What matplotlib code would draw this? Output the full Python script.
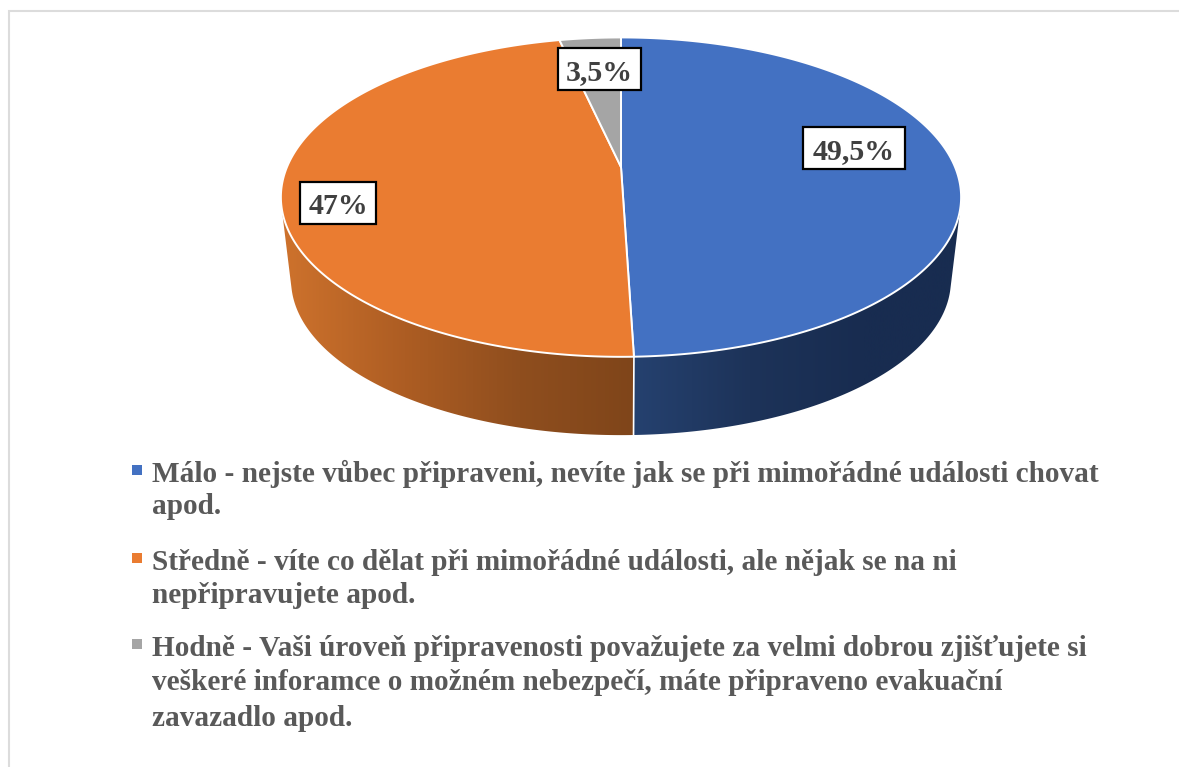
import numpy as np
import matplotlib
matplotlib.use("Agg")
import matplotlib.pyplot as plt
from matplotlib.colors import LinearSegmentedColormap
from matplotlib.patches import Polygon, Rectangle

# data
categories = ["Málo", "Středně", "Hodně"]
shares = [49.5, 47.0, 3.5]
share_labels = ["49,5%", "47%", "3,5%"]
legend_lines = [
    ["Málo - nejste vůbec připraveni, nevíte jak se při mimořádné události chovat", "apod."],
    ["Středně - víte co dělat při mimořádné události, ale nějak se na ni", "nepřipravujete apod."],
    ["Hodně - Vaši úroveň připravenosti považujete za velmi dobrou zjišťujete si",
     "veškeré inforamce o možném nebezpečí, máte připraveno evakuační", "zavazadlo apod."],
]
top_colors = ["#4371c2", "#ea7c31", "#a5a5a5"]
side_colors = [
    ["#25416f", "#1d3359", "#182c50", "#182c50"],
    ["#7f451a", "#8f4e1e", "#ad5d23", "#cc712c"],
    ["#a5a5a5", "#a5a5a5"],
]

plt.rcParams["font.family"] = ["Liberation Serif", "DejaVu Serif"]

fig = plt.figure(figsize=(11.79, 7.67), dpi=100)
ax = fig.add_axes([0, 0, 1, 1])

# chart frame, only left and top are in the crop
ax.plot([9, 9, 1179], [767, 11, 11], color="#dcdcdc", lw=1.5, solid_joinstyle="miter")

# perspective of the pie disc
cx, cy = 621, 167
half_w, half_h = 334, 154
persp = 0.1887
low_cy, low_scale = 251, 0.97


def top_xy(theta):
    w = 1 + persp * np.cos(theta)
    return cx + half_w * np.sin(theta) / w, cy - half_h * np.cos(theta) / w


def low_xy(theta):
    w = 1 + persp * np.cos(theta)
    return cx + low_scale * half_w * np.sin(theta) / w, low_cy - low_scale * half_h * np.cos(theta) / w


def hull(points):
    # monotone chain, gives the outline of the side including the straight silhouette
    pts = sorted(set(map(tuple, points)))

    def half(seq):
        out = []
        for p in seq:
            while len(out) > 1 and ((out[-1][0] - out[-2][0]) * (p[1] - out[-2][1])
                                    - (out[-1][1] - out[-2][1]) * (p[0] - out[-2][0])) <= 0:
                out.pop()
            out.append(p)
        return out[:-1]

    return np.array(half(pts) + half(pts[::-1]))


edges = np.radians(np.concatenate([[0], np.cumsum(shares)]) * 3.6)
seam_x = top_xy(edges[1])[0]

# sides first, the top disc covers whatever is behind it
for i in range(len(shares)):
    th = np.linspace(edges[i], edges[i + 1], 300)
    xt, yt = top_xy(th)
    xl, yl = low_xy(th)
    outline = hull(np.column_stack([np.r_[xt, xl], np.r_[yt, yl]]))
    patch = Polygon(outline, closed=True, facecolor="none", edgecolor="none", transform=ax.transData)
    ax.add_patch(patch)
    # gradient follows the distance from the seam at the front
    x0, x1 = outline[:, 0].min() - 2, outline[:, 0].max() + 2
    y0, y1 = outline[:, 1].min() - 2, outline[:, 1].max() + 2
    xs = np.linspace(x0, x1, 512)
    cmap = LinearSegmentedColormap.from_list("side", side_colors[i])
    grad = cmap(np.clip(np.abs(xs - seam_x) / 345, 0, 1))[np.newaxis, :, :]
    im = ax.imshow(grad, extent=(x0, x1, y1, y0), aspect="auto", interpolation="bilinear", zorder=2)
    im.set_clip_path(patch)

# seam at the front of the side
xt, yt = top_xy(edges[1])
xl, yl = low_xy(edges[1])
ax.plot([xt, xl], [yt, yl], color="white", lw=1.2, zorder=3)

# top disc
for i in range(len(shares)):
    th = np.linspace(edges[i], edges[i + 1], 300)
    xt, yt = top_xy(th)
    pts = np.column_stack([np.r_[cx, xt], np.r_[cy, yt]])
    ax.add_patch(Polygon(pts, closed=True, facecolor=top_colors[i], edgecolor="white", lw=1.4,
                         joinstyle="round", zorder=4))

# value labels
label_boxes = [(803, 127, 102, 42), (300, 182, 76, 42), (558, 48, 83, 42)]
for text, (bx, by, bw, bh) in zip(share_labels, label_boxes):
    ax.add_patch(Rectangle((bx, by), bw, bh, facecolor="white", edgecolor="black", lw=1.6, zorder=5))
    ax.text(bx + bw / 2, by + bh / 2 + 11, text, ha="center", va="baseline", fontsize=21.5,
            fontweight="bold", color="#404040", zorder=6)

# legend
legend_baselines = [[482, 514], [570, 603], [656, 690, 726]]
for i, lines in enumerate(legend_lines):
    ax.add_patch(Rectangle((132, legend_baselines[i][0] - 17), 10, 10, facecolor=top_colors[i],
                           edgecolor="none", zorder=5))
    for line, base in zip(lines, legend_baselines[i]):
        ax.text(152, base, line, ha="left", va="baseline", fontsize=21.1, fontweight="bold",
                color="#595959", zorder=5)

ax.set_xlim(0, 1179)
ax.set_ylim(767, 0)
ax.axis("off")

fig.savefig("out.png", dpi=100)
